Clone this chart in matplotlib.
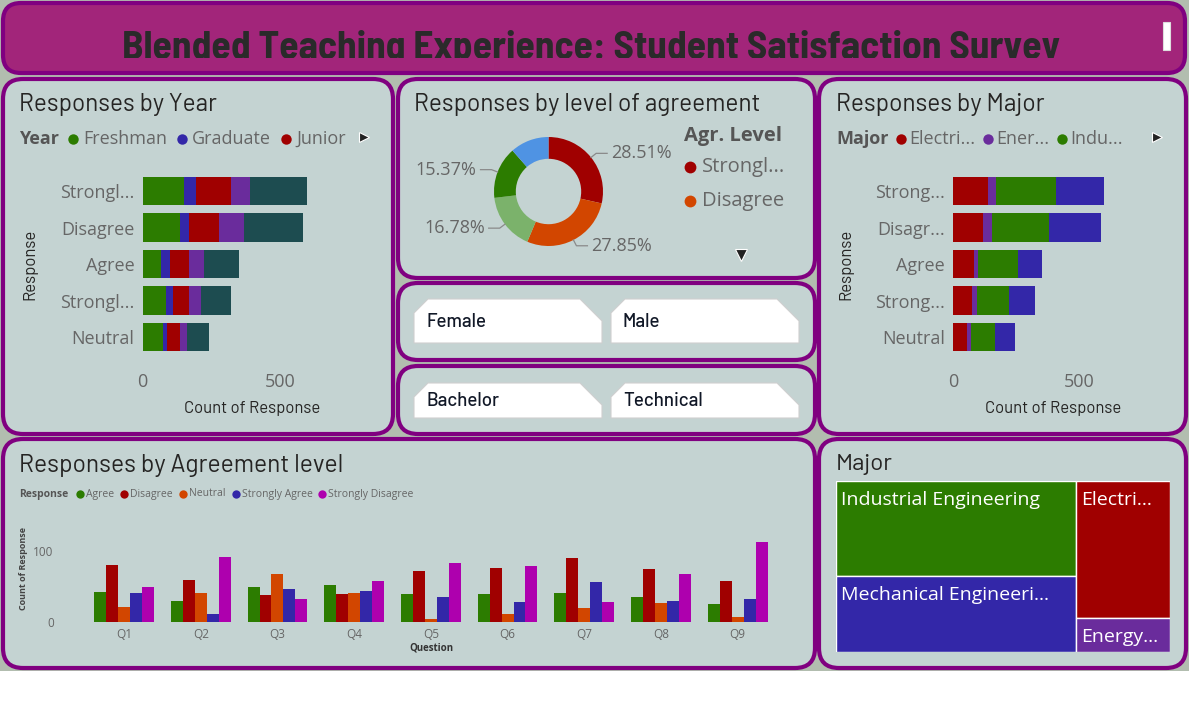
"""Blended teaching survey dashboard, redrawn as a static matplotlib figure."""
import matplotlib

matplotlib.use("Agg")
import matplotlib.pyplot as plt
import numpy as np
from matplotlib import font_manager
from matplotlib.patches import FancyBboxPatch, Polygon, Rectangle

W, H = 1189, 720

TITLE = "Blended Teaching Experience: Student Satisfaction Survey"

# ---- data ----
RESP_TICKS_YEAR = ["Strongl...", "Disagree", "Agree", "Strongl...", "Neutral"]
RESP_TICKS_MAJOR = ["Strong...", "Disagr...", "Agree", "Strong...", "Neutral"]

YEAR_LEGEND = ["Freshman", "Graduate", "Junior"]
freshman = [150, 137, 67, 85, 73]
graduate = [45, 33, 34, 25, 17]
junior = [127, 107, 66, 58, 46]
senior = [67, 93, 56, 45, 27]
sophomore = [209, 215, 129, 108, 78]

MAJOR_LEGEND = ["Electri...", "Ener...", "Indu..."]
TREEMAP_LABELS = ["Electri...", "Energy...", "Industrial Engineering",
                  "Mechanical Engineeri..."]
electrical = [139, 118, 84, 76, 57]
energy = [30, 37, 15, 18, 16]
industrial = [237, 226, 158, 128, 91]
mechanical = [191, 203, 96, 100, 79]

AGR_LEGEND = ["Strongl...", "Disagree"]
agr_share = [28.51, 27.85, 16.78, 15.37, 11.49]  # SD, D, A, SA, N
agr_labelled = [True, True, True, True, False]

QUESTIONS = ["Q1", "Q2", "Q3", "Q4", "Q5", "Q6", "Q7", "Q8", "Q9"]
Q_LEGEND = ["Agree", "Disagree", "Neutral", "Strongly Agree", "Strongly Disagree"]
q_agree = [43, 30, 49, 52, 40, 40, 41, 35, 25]
q_disagree = [80, 60, 38, 40, 72, 76, 90, 75, 58]
q_neutral = [22, 41, 68, 41, 5, 12, 20, 27, 7]
q_strongly_agree = [41, 12, 47, 44, 35, 28, 56, 30, 32]
q_strongly_disagree = [49, 92, 33, 58, 83, 79, 28, 68, 113]

SLICER_GENDER = ["Female", "Male"]
SLICER_LEVEL = ["Bachelor", "Technical"]

# ---- colours ----
GREEN = "#2c7c00"
BLUE = "#3327a8"
RED = "#a00000"
PURPLE = "#6a2c9c"
TEAL = "#1d4c50"
ORANGE = "#d24600"
MAGENTA = "#ae00ae"
LIGHTGREEN = "#7bb26b"
LIGHTBLUE = "#4f93e3"
PANEL = "#c4d3d2"
BG_GREY = "#b2bdaf"
BORDER = "#800080"
TITLE_FILL = "#a2257a"
TXT_GREY = "#666666"
TXT_DARK = "#252423"

# ---- fonts: take the first installed family of each kind ----
_weights = {}
for f in font_manager.fontManager.ttflist:
    w = f.weight if isinstance(f.weight, int) else 400
    _weights.setdefault(f.name, set()).add(w)


def pick(cands, bold=False):
    for c in cands:
        if c in _weights and (not bold or max(_weights[c]) >= 600):
            return [c, "DejaVu Sans"]
    return ["DejaVu Sans"]


BODY = pick(["Segoe UI", "Selawik", "Open Sans", "Noto Sans"])
BODY_BOLD = pick(["Segoe UI", "Selawik", "Open Sans", "Noto Sans", "Lato"], bold=True)
DIN = pick(["Bahnschrift", "D-DIN", "DIN Alternate", "Barlow", "Roboto"])
DIN_BOLD = pick(["Bahnschrift", "D-DIN", "Barlow", "Roboto"], bold=True)
NARROW = pick(["Bahnschrift Condensed", "DIN Condensed", "Barlow Semi Condensed",
               "Roboto Condensed", "Archivo Narrow", "PT Sans Narrow",
               "Liberation Sans Narrow", "Fira Sans Condensed", "Oswald"], bold=True)
plt.rcParams["font.family"] = BODY

fig = plt.figure(figsize=(W / 100, H / 100), dpi=100)
fig.patch.set_facecolor("white")
bg = fig.add_axes([0, 0, 1, 1])
bg.set_xlim(0, W)
bg.set_ylim(H, 0)
bg.axis("off")
renderer = fig.canvas.get_renderer()

bg.add_patch(Rectangle((0, 0), W, 671, facecolor=BG_GREY, edgecolor="none"))


def panel(x0, y0, x1, y1, face=PANEL, r=20):
    bg.add_patch(FancyBboxPatch((x0, y0), x1 - x0, y1 - y0,
                                boxstyle=f"round,pad=0,rounding_size={r}",
                                facecolor=face, edgecolor=BORDER, linewidth=3))


def px_axes(x0, y0, x1, y1):
    ax = fig.add_axes([x0 / W, 1 - y1 / H, (x1 - x0) / W, (y1 - y0) / H])
    ax.patch.set_alpha(0)
    return ax


def right_edge(t):
    return t.get_window_extent(renderer).x1


def fit_width(t, width):
    t.set_fontsize(t.get_fontsize() * width / t.get_window_extent(renderer).width)


def panel_title(x, y, s, width):
    t = bg.text(x, y + 1.5, s, fontsize=15, color=TXT_DARK, va="center", family=DIN)
    fit_width(t, width)


def flow_legend(x, y, title, labels, colors, size, dot_ms, title_gap, text_gap, item_gap):
    t = bg.text(x, y, title, fontsize=size, fontweight="bold", color="#555555",
                va="center", family=BODY_BOLD)
    x = right_edge(t) + title_gap
    for lab, c in zip(labels, colors):
        bg.plot(x, y, "o", ms=dot_ms, color=c, mec="none")
        t = bg.text(x + text_gap, y, lab, fontsize=size, color=TXT_GREY, va="center")
        x = right_edge(t) + item_gap


def stacked_barh(ax, series, colors, ticks):
    y = np.arange(len(ticks))
    left = np.zeros(len(ticks))
    for vals, c in zip(series, colors):
        ax.barh(y, vals, left=left, height=0.77, color=c, edgecolor="none")
        left += np.array(vals)
    ax.set_xlim(0, 800)
    ax.set_ylim(len(ticks) - 0.5, -0.5)
    ax.set_yticks(y)
    ax.set_yticklabels(ticks)
    ax.set_xticks([0, 500])
    ax.tick_params(length=0, labelsize=13, labelcolor=TXT_GREY)
    ax.tick_params(axis="x", pad=13)
    ax.tick_params(axis="y", pad=6)
    for s in ax.spines.values():
        s.set_visible(False)


# ---- panels ----
panel(3, 3, 1185, 73, face=TITLE_FILL, r=18)
panel(3, 79, 393, 434)
panel(398, 79, 815, 278)
panel(398, 283, 815, 360)
panel(398, 366, 815, 434)
panel(819, 79, 1186, 434)
panel(3, 439, 815, 668)
panel(819, 439, 1186, 668)

# ---- title (clipped at the bottom like the original) ----
title_ax = px_axes(0, 3, W, 58)
title_ax.axis("off")
tt = title_ax.text(591, 58, TITLE, transform=bg.transData, ha="center", va="baseline",
                   fontsize=26, fontweight="bold", color="#2a2a2a", clip_on=True,
                   family=NARROW)
fit_width(tt, 938)
bg.add_patch(Rectangle((1163, 22), 7, 28, facecolor="white", edgecolor="#dddddd", lw=0.8))

# ---- responses by year ----
panel_title(19, 103, "Responses by Year", 197)
flow_legend(19, 139, "Year", YEAR_LEGEND, [GREEN, BLUE, RED], 13, 7.5, 14, 10, 15)
bg.plot(364, 137, ">", ms=7, color="#222222", mec="white", mew=0.8)
ax_year = px_axes(142.7, 172.75, 362.5, 355.25)
stacked_barh(ax_year, [freshman, graduate, junior, senior, sophomore],
             [GREEN, BLUE, RED, PURPLE, TEAL], RESP_TICKS_YEAR)
bg.text(30, 264, "Response", fontsize=12, color=TXT_DARK, rotation=90, ha="center",
        va="center", family=DIN)
bg.text(252, 409, "Count of Response", fontsize=12, color=TXT_DARK, ha="center",
        va="center", family=DIN)

# ---- responses by major ----
panel_title(836, 103, "Responses by Major", 209)
flow_legend(836, 139, "Major", MAJOR_LEGEND, [RED, PURPLE, GREEN], 13, 7.5, 12, 9, 12)
bg.plot(1157, 137, ">", ms=7, color="#222222", mec="white", mew=0.8)
ax_major = px_axes(953, 172.75, 1155.6, 355.25)
stacked_barh(ax_major, [electrical, energy, industrial, mechanical],
             [RED, PURPLE, GREEN, BLUE], RESP_TICKS_MAJOR)
bg.text(846, 264, "Response", fontsize=12, color=TXT_DARK, rotation=90, ha="center",
        va="center", family=DIN)
bg.text(1053, 409, "Count of Response", fontsize=12, color=TXT_DARK, ha="center",
        va="center", family=DIN)

# ---- donut ----
panel_title(414, 103, "Responses by level of agreement", 346)
cx, cy, R = 548.5, 191.5, 54.5
dax = px_axes(cx - 100, cy - 100, cx + 100, cy + 100)
donut_colors = [RED, ORANGE, LIGHTGREEN, GREEN, LIGHTBLUE]
dax.pie(agr_share, colors=donut_colors, startangle=90, counterclock=False, radius=1,
        wedgeprops=dict(width=0.4, edgecolor="none"))
dax.set_xlim(-100 / R, 100 / R)
dax.set_ylim(-100 / R, 100 / R)
dax.set_aspect("equal")
dax.axis("off")
cum = 0.0
for share, show in zip(agr_share, agr_labelled):
    mid = np.deg2rad(90 - (cum + share / 2) * 3.6)
    cum += share
    if not show:
        continue
    px, py = np.cos(mid), np.sin(mid)
    qx, qy = 1.12 * px, 1.12 * py
    side = 1 if px > 0 else -1
    hx = qx + side * 11 / R
    dax.plot([px, qx, hx], [py, qy, qy], color="#8a8a8a", lw=0.9)
    dax.text(hx + side * 4 / R, qy, f"{share:.2f}%", fontsize=13, color=TXT_GREY,
             ha="left" if side > 0 else "right", va="center")
bg.text(684, 136, "Agr. Level", fontsize=14.5, fontweight="bold", color="#555555",
        va="center", family=BODY_BOLD)
for i, lab in enumerate(AGR_LEGEND):
    y = 167 + i * 34
    bg.plot(690, y, "o", ms=8.5, color=donut_colors[i], mec="none")
    bg.text(702, y, lab, fontsize=14.5, color=TXT_GREY, va="center")
bg.plot(741, 255, "v", ms=8, color="#222222", mec="white", mew=0.8)


# ---- slicers ----
def slicer_tile(x0, y0, x1, y1, label):
    cl, cr = 14, 22
    pts = [(x0, y0 + cl), (x0 + cl, y0), (x1 - cr, y0), (x1, y0 + cr), (x1, y1), (x0, y1)]
    bg.add_patch(Polygon(pts, closed=True, facecolor="white", edgecolor="#cfcfcf", lw=0.8))
    bg.text(x0 + 12, (y0 + y1) / 2 + 1, label, fontsize=13.5, color="#111827", va="center",
            family=DIN_BOLD, fontweight="medium")


for (x0, x1), lab in zip([(414, 602), (611, 799)], SLICER_GENDER):
    slicer_tile(x0, 299, x1, 343, lab)
for (x0, x1), lab in zip([(414, 602), (611, 799)], SLICER_LEVEL):
    slicer_tile(x0, 383, x1, 418, lab)

# ---- responses by agreement level per question ----
panel_title(19, 464, "Responses by Agreement level", 323)
q_colors = [GREEN, RED, ORANGE, BLUE, MAGENTA]
flow_legend(19, 494, "Response", Q_LEGEND, q_colors, 7.5, 6, 12, 6, 10)
ax_q = px_axes(85.7, 529.6, 776, 622.3)
x = np.arange(len(QUESTIONS))
bw = 0.156
for i, (vals, c) in enumerate(zip([q_agree, q_disagree, q_neutral, q_strongly_agree,
                                   q_strongly_disagree], q_colors)):
    ax_q.bar(x + (i - 2) * bw, vals, width=bw, color=c, edgecolor="none")
ax_q.set_xlim(-0.5, len(QUESTIONS) - 0.5)
ax_q.set_ylim(0, 130)
ax_q.set_xticks(x)
ax_q.set_xticklabels(QUESTIONS)
ax_q.set_yticks([0, 100])
ax_q.tick_params(length=0, labelsize=8.5, labelcolor=TXT_GREY)
ax_q.tick_params(axis="y", pad=23)
ax_q.tick_params(axis="x", pad=4)
for s in ax_q.spines.values():
    s.set_visible(False)
bg.text(24, 568, "Count of Response", fontsize=6.5, fontweight="bold", color="#444444",
        rotation=90, ha="center", va="center", family=BODY_BOLD)
bg.text(431, 648, "Question", fontsize=7, fontweight="bold", color="#333333",
        ha="center", va="center", family=BODY_BOLD)

# ---- treemap ----
panel_title(836, 463, "Major", 57)
tx0, ty0, tx1, ty1 = 835.7, 481, 1170, 651.7
tmw, tmh = tx1 - tx0, ty1 - ty0
tax = px_axes(tx0, ty0, tx1, ty1)
tax.set_xlim(0, tmw)
tax.set_ylim(tmh, 0)
tax.axis("off")
totals = np.array([sum(electrical), sum(energy), sum(industrial), sum(mechanical)])
tm_colors = [RED, PURPLE, GREEN, BLUE]
order = np.argsort(totals)[::-1]
xpos = 0.0
for col in (order[:2], order[2:]):
    colw = tmw * totals[col].sum() / totals.sum()
    ypos = 0.0
    for k in col:
        h = tmh * totals[k] / totals[col].sum()
        tax.add_patch(Rectangle((xpos, ypos), colw, h, facecolor=tm_colors[k],
                                edgecolor="white", lw=1))
        tax.text(xpos + 5, ypos + 19, TREEMAP_LABELS[k], fontsize=14, color="white",
                 va="center")
        ypos += h
    xpos += colw

fig.savefig("out.png", dpi=100, facecolor=fig.get_facecolor())
